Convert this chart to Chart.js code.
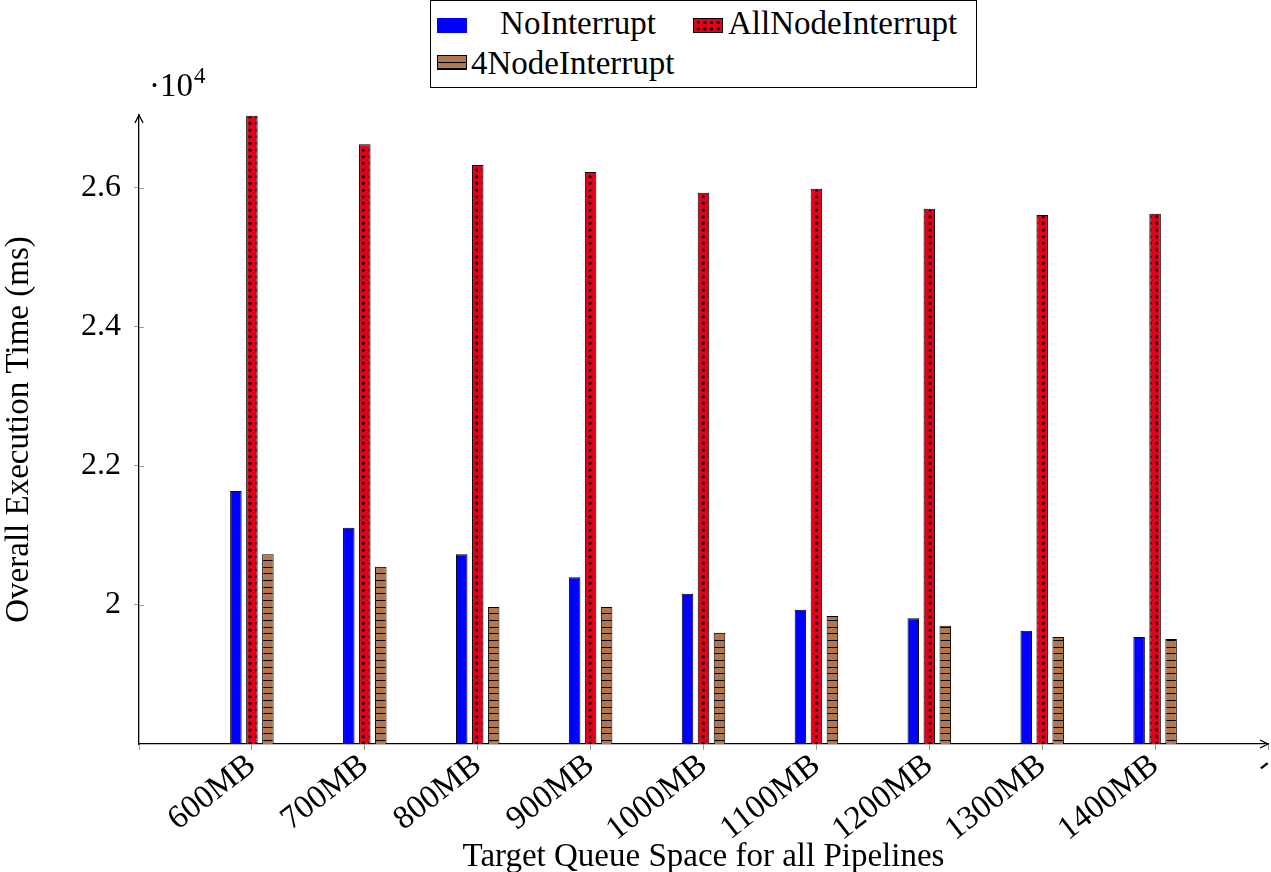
<!DOCTYPE html>
<html>
<head>
<meta charset="utf-8">
<script src="https://cdn.jsdelivr.net/npm/chart.js@4.4.0/dist/chart.umd.min.js"></script>
<style>
html, body { margin: 0; padding: 0; background: #fff; }
#wrap { position: relative; width: 1271px; height: 872px; }
#c { position: absolute; left: 0; top: 0; }
#legend { position: absolute; left: 430px; top: 0; width: 545px; height: 86px; border: 1px solid #000;
          font-family: "Liberation Serif", serif; font-size: 33px; color: #000; background: #fff; }
.sw { position: absolute; width: 30px; height: 15px; box-sizing: border-box; }
.lt { position: absolute; line-height: 1; white-space: nowrap; }
</style>
</head>
<body>
<div id="wrap">
  <canvas id="c" width="1271" height="872"></canvas>
  <div id="legend">
    <div class="sw" style="left:6px;top:17px;background:#0000ff;"></div>
    <div class="lt" style="left:40px;top:6px;width:214px;text-align:center;">NoInterrupt</div>
    <div class="sw" style="left:262px;top:17px;border:1px solid #000;background-color:#e2001a;
         background-image:radial-gradient(circle, #000 1.3px, transparent 1.7px);background-size:6.6px 6.6px;background-position:1px 0;"></div>
    <div class="lt" style="left:297px;top:6px;">AllNodeInterrupt</div>
    <div class="sw" style="left:6px;top:54px;border:1px solid #000;
         background:repeating-linear-gradient(to bottom, #b07850 0 5.6px, #000 5.6px 6.6px);"></div>
    <div class="lt" style="left:40px;top:46px;">4NodeInterrupt</div>
  </div>
</div>
<script>
// data (ms)
var categories = ['600MB', '700MB', '800MB', '900MB', '1000MB', '1100MB', '1200MB', '1300MB', '1400MB'];
var noInterrupt = [21640, 21110, 20730, 20400, 20160, 19930, 19810, 19630, 19540];
var allNodeInterrupt = [27040, 26630, 26330, 26230, 25930, 25990, 25700, 25610, 25630];
var fourNodeInterrupt = [20730, 20550, 19970, 19970, 19600, 19840, 19700, 19540, 19510];
var yTicks = [20000, 22000, 24000, 26000];

var FONT = '"Liberation Serif", serif';

// empty slot on the left, '-' slot at the arrow end
var labels = [''].concat(categories, ['-']);
function pad(arr) { return [null].concat(arr, [null]); }

function makeTile(kind) {
    var t = document.createElement('canvas');
    t.width = 20; t.height = 20;
    var g = t.getContext('2d');
    if (kind == 'dots') {
        g.fillStyle = '#e2001a';
        g.fillRect(0, 0, 20, 20);
        g.fillStyle = '#000';
        for (var i = 0; i < 3; i++) {
            for (var j = 0; j < 3; j++) {
                g.beginPath();
                g.arc(3.3 + i * 6.67, 3.3 + j * 6.67, 1.5, 0, Math.PI * 2);
                g.fill();
            }
        }
    } else {
        g.fillStyle = '#b07850';
        g.fillRect(0, 0, 20, 20);
        g.fillStyle = '#000';
        [0, 7, 13].forEach(function (y) { g.fillRect(0, y, 20, 1); });
    }
    return t;
}

var ctx = document.getElementById('c').getContext('2d');
var dotPattern = ctx.createPattern(makeTile('dots'), 'repeat');
var linePattern = ctx.createPattern(makeTile('lines'), 'repeat');

var axisDecor = {
    id: 'axisDecor',
    afterDraw: function (chart) {
        var a = chart.chartArea, c = chart.ctx;
        c.save();
        c.strokeStyle = '#000';
        c.lineWidth = 1.3;
        // arrow at top of y axis
        c.beginPath();
        c.moveTo(a.left - 4, a.top + 8); c.lineTo(a.left, a.top); c.lineTo(a.left + 4, a.top + 8);
        c.stroke();
        // arrow at right end of x axis
        c.beginPath();
        c.moveTo(a.right - 8, a.bottom - 4); c.lineTo(a.right, a.bottom); c.lineTo(a.right - 8, a.bottom + 4);
        c.stroke();
        // y ticks cross the axis on the inside too
        c.strokeStyle = '#999';
        c.lineWidth = 1;
        var ys = chart.scales.y;
        yTicks.forEach(function (v) {
            var py = Math.round(ys.getPixelForValue(v)) + 0.5;
            c.beginPath(); c.moveTo(a.left, py); c.lineTo(a.left + 5, py); c.stroke();
        });
        // exponent label
        c.fillStyle = '#000';
        c.textBaseline = 'alphabetic';
        c.font = '33px ' + FONT;
        c.fillText('\u00b710', a.left + 10, a.top - 19);
        var w = c.measureText('\u00b710').width;
        c.font = '23px ' + FONT;
        c.fillText('4', a.left + 11 + w, a.top - 32);
        c.restore();
    }
};

new Chart(ctx, {
    type: 'bar',
    data: {
        labels: labels,
        datasets: [
            { label: 'NoInterrupt', data: pad(noInterrupt), backgroundColor: '#0000ff', borderColor: '#000', borderWidth: 1 },
            { label: 'AllNodeInterrupt', data: pad(allNodeInterrupt), backgroundColor: dotPattern, borderColor: '#000', borderWidth: 1 },
            { label: '4NodeInterrupt', data: pad(fourNodeInterrupt), backgroundColor: linePattern, borderColor: '#000', borderWidth: 1 }
        ]
    },
    plugins: [axisDecor],
    options: {
        responsive: false,
        animation: false,
        layout: { padding: { top: 115, right: 3, left: 0, bottom: 0 } },
        datasets: { bar: { categoryPercentage: 0.425, barPercentage: 0.72 } },
        plugins: { legend: { display: false }, tooltip: { enabled: false } },
        scales: {
            x: {
                offset: false,
                grid: { offset: false, drawOnChartArea: false, color: '#999', tickLength: 6 },
                border: { color: '#000', width: 1.3 },
                ticks: { autoSkip: false, minRotation: 38, maxRotation: 38, color: '#000', padding: -4,
                         font: { family: FONT, size: 33 } },
                title: { display: true, text: 'Target Queue Space for all Pipelines', color: '#000',
                         font: { family: FONT, size: 33, lineHeight: 0.9 }, padding: { top: 0, bottom: 0 } },
                afterFit: function (s) { s.height = 128; s.paddingLeft = 0; s.paddingRight = 0; }
            },
            y: {
                min: 18000,
                max: 27050,
                afterBuildTicks: function (s) { s.ticks = yTicks.map(function (v) { return { value: v }; }); },
                grid: { drawOnChartArea: false, color: '#999', tickLength: 5 },
                border: { color: '#000', width: 1.3 },
                ticks: { color: '#000', padding: 13, font: { family: FONT, size: 32 },
                         callback: function (v) { return String(v / 10000); } },
                title: { display: true, text: 'Overall Execution Time (ms)', color: '#000',
                         font: { family: FONT, size: 33 }, padding: { top: 0, bottom: 0 } },
                afterFit: function (s) { s.width = 139; }
            }
        }
    }
});
</script>
</body>
</html>
